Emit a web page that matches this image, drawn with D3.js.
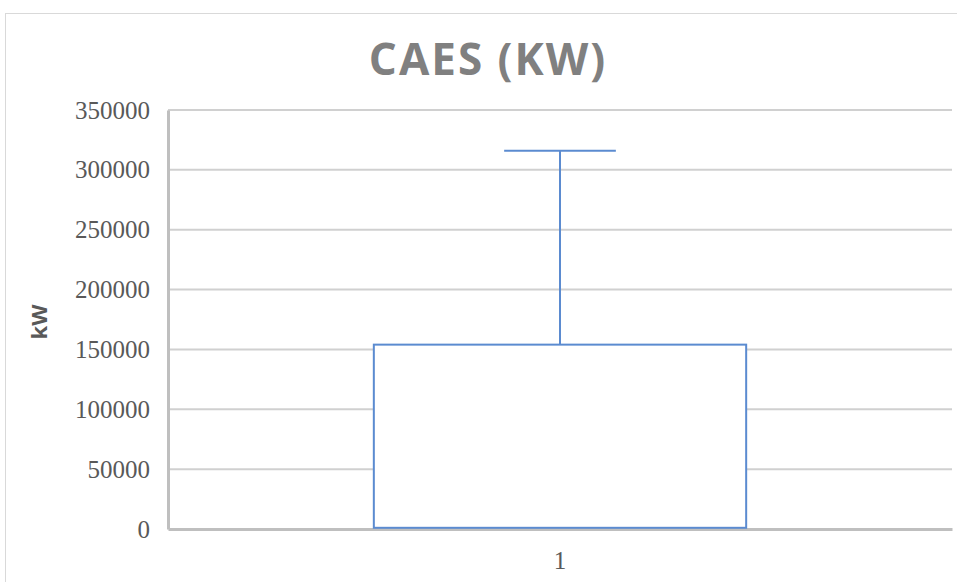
<!DOCTYPE html>
<html>
<head>
<meta charset="utf-8">
<script src="https://cdn.jsdelivr.net/npm/d3@7"></script>
<style>
  body { margin: 0; background: #fff; }
</style>
</head>
<body>
<div id="chart"></div>
<script>
// data
const categories = ['1'];
const boxLow = [1000];
const boxHigh = [154000];
const whiskerHigh = [316000];
const yTicks = [0, 50000, 100000, 150000, 200000, 250000, 300000, 350000];

const W = 957, H = 582;
const plot = {left: 168, right: 952, top: 110, bottom: 529};

const svg = d3.select('#chart')
    .append('svg')
    .attr('width', W)
    .attr('height', H);

// chart border
svg.append('rect')
    .attr('x', 5.5)
    .attr('y', 13.5)
    .attr('width', W)
    .attr('height', H)
    .attr('fill', '#fff')
    .attr('stroke', '#d9d9d9')
    .attr('stroke-width', 1);

const x = d3.scaleBand()
    .domain(categories)
    .range([plot.left, plot.right])
    .paddingInner(0.356)
    .paddingOuter(0.356);

const y = d3.scaleLinear()
    .domain([0, 350000])
    .range([plot.bottom, plot.top]);

// grid
svg.append('g')
    .selectAll('line')
    .data(yTicks.filter(d => d > 0))
    .enter()
    .append('line')
    .attr('x1', plot.left)
    .attr('x2', plot.right)
    .attr('y1', d => y(d))
    .attr('y2', d => y(d))
    .attr('stroke', '#d0d0d0')
    .attr('stroke-width', 2);

// y axis
const yAxis = svg.append('g')
    .attr('transform', `translate(${plot.left},0)`)
    .call(d3.axisLeft(y).tickValues(yTicks).tickSize(0).tickPadding(18).tickFormat(d3.format('d')));
yAxis.select('.domain').attr('stroke', '#bfbfbf').attr('stroke-width', 3);
yAxis.selectAll('text')
    .attr('fill', '#595959')
    .style('font-family', '"Liberation Serif", serif')
    .style('font-size', '25px');

// x axis
const xAxis = svg.append('g')
    .attr('transform', `translate(0,${plot.bottom})`)
    .call(d3.axisBottom(x).tickSize(0).tickPadding(22));
xAxis.select('.domain').attr('stroke', '#bfbfbf').attr('stroke-width', 3);
xAxis.selectAll('text')
    .attr('fill', '#595959')
    .style('font-family', '"Liberation Serif", serif')
    .style('font-size', '25px');

// box
const boxes = svg.append('g')
    .selectAll('g')
    .data(categories.map((c, i) => ({cat: c, lo: boxLow[i], hi: boxHigh[i], top: whiskerHigh[i]})))
    .enter()
    .append('g');

boxes.append('line')
    .attr('x1', d => x(d.cat) + x.bandwidth() / 2)
    .attr('x2', d => x(d.cat) + x.bandwidth() / 2)
    .attr('y1', d => y(d.hi))
    .attr('y2', d => y(d.top))
    .attr('stroke', '#5b8bd0')
    .attr('stroke-width', 2);

boxes.append('line')
    .attr('x1', d => x(d.cat) + x.bandwidth() * 0.35)
    .attr('x2', d => x(d.cat) + x.bandwidth() * 0.65)
    .attr('y1', d => y(d.top))
    .attr('y2', d => y(d.top))
    .attr('stroke', '#5b8bd0')
    .attr('stroke-width', 2);

boxes.append('rect')
    .attr('x', d => x(d.cat))
    .attr('y', d => y(d.hi))
    .attr('width', x.bandwidth())
    .attr('height', d => y(d.lo) - y(d.hi))
    .attr('fill', '#fff')
    .attr('stroke', '#5b8bd0')
    .attr('stroke-width', 2);

// title
svg.append('text')
    .attr('x', 488)
    .attr('y', 75)
    .attr('text-anchor', 'middle')
    .attr('fill', '#808080')
    .style('font-family', '"Open Sans", sans-serif')
    .style('font-weight', 'bold')
    .style('font-size', '44px')
    .style('letter-spacing', '2px')
    .text('CAES (KW)');

// y label
svg.append('text')
    .attr('transform', 'rotate(-90)')
    .attr('x', -322)
    .attr('y', 47)
    .attr('text-anchor', 'middle')
    .attr('fill', '#595959')
    .style('font-family', '"Open Sans", sans-serif')
    .style('font-weight', 'bold')
    .style('font-size', '22px')
    .text('kW');
</script>
</body>
</html>
